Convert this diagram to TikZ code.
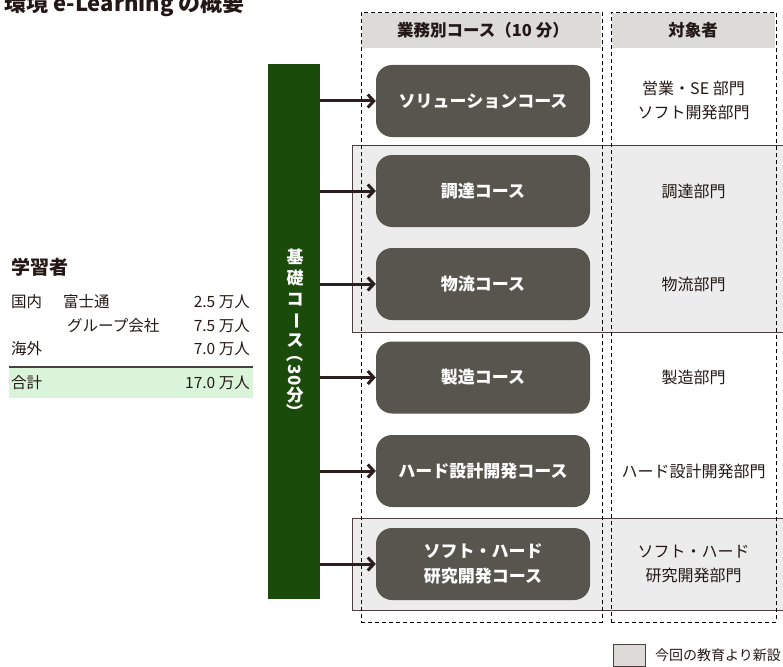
\documentclass[tikz,border=0pt]{standalone}
\usepackage{fontspec}
\setmainfont{Noto Sans CJK JP}
\usepackage{graphicx}
\usetikzlibrary{arrows.meta}
\definecolor{txt}{HTML}{231815}
\definecolor{coursegray}{HTML}{57554E}
\definecolor{headgray}{HTML}{DCDBD7}
\definecolor{newfill}{HTML}{ECECEC}
\definecolor{newborder}{HTML}{4B3F3F}
\definecolor{basegreen}{HTML}{1B4B0A}
\definecolor{arrowc}{HTML}{2A1E1E}
\definecolor{totalgreen}{HTML}{DAF4DA}
\begin{document}
\begin{tikzpicture}[x=1pt,y=-1pt,
  every node/.style={inner sep=0pt, text=txt},
  newbox/.style={fill=newfill, draw=newborder, line width=1.2pt, minimum width=440pt, anchor=north west},
  colbox/.style={draw=black, dash pattern=on 4pt off 3pt, line width=0.9pt, anchor=north west},
  course/.style={fill=coursegray, rounded corners=16pt, minimum width=214pt, minimum height=72pt,
    text=white, font=\fontsize{17}{25}\selectfont\bfseries, align=center},
  target/.style={font=\fontsize{16}{24}\selectfont, align=center},
  head/.style={font=\fontsize{16.5}{18}\selectfont\bfseries},
  vchar/.style={text=white, font=\fontsize{17}{17}\selectfont\bfseries},
  row/.style={font=\fontsize{15.5}{18}\selectfont},
  link/.style={draw=arrowc, line width=3pt, -{Straight Barb[length=6pt,width=13pt]}}
]
\useasboundingbox (0,0) rectangle (783,666);

% title (cut at top as in the reference)
\node[anchor=base east, font=\fontsize{22}{22}\selectfont\bfseries] (title) at (245,12) {環境 e-Learning の概要};

% learners table
\node[anchor=west, font=\fontsize{19}{20}\selectfont\bfseries] (learners) at (11,267) {学習者};
\node[row, anchor=west] (r1a) at (11,302) {国内};
\node[row, anchor=west] (r1b) at (63,302) {富士通};
\node[row, anchor=east] (r1c) at (250,302) {2.5 万人};
\node[row, anchor=west] (r2b) at (67,326) {グループ会社};
\node[row, anchor=east] (r2c) at (250,326) {7.5 万人};
\node[row, anchor=west] (r3a) at (11,349) {海外};
\node[row, anchor=east] (r3c) at (250,349) {7.0 万人};
\fill[totalgreen] (9,368) rectangle (253,398);
\draw[newborder, line width=1.3pt] (9,367) -- (253,367);
\node[row, anchor=west] (r4a) at (11,383) {合計};
\node[row, anchor=east] (r4c) at (250,383) {17.0 万人};

% new-course highlight bands
\node[newbox, minimum height=187pt] (new1) at (352,145) {};
\node[newbox, minimum height=92pt] (new2) at (352,518) {};

% column headers
\fill[headgray] (362,13) rectangle (601,48);
\fill[headgray] (612,13) rectangle (775,48);
\node[head] (h1) at (483,30) {業務別コース（10 分）};
\node[head] (h2) at (693,30) {対象者};

% dashed columns
\node[colbox, minimum width=241pt, minimum height=610pt] (col1) at (361,12) {};
\node[colbox, minimum width=165pt, minimum height=610pt] (col2) at (611,12) {};

% base course bar
\node[fill=basegreen, minimum width=52pt, minimum height=535pt, anchor=north west] (base) at (268,64) {};
\node[vchar] (v1) at (295,257) {基};
\node[vchar] (v2) at (295,278) {礎};
\node[vchar] (v3) at (295,300) {コ};
\node[vchar, rotate=-90] (v4) at (295,321) {ー};
\node[vchar] (v5) at (295,341) {ス};
\node[vchar, rotate=-90] (v6) at (295,353.5) {（};
\node[vchar, rotate=-90] (v7) at (295,375) {30};
\node[vchar] (v8) at (295,395) {分};
\node[vchar, rotate=-90] (v9) at (295,411.5) {）};

% courses
\node[course] (c1) at (483,101) {ソリューションコース};
\node[course] (c2) at (483,191) {調達コース};
\node[course] (c3) at (483,284) {物流コース};
\node[course] (c4) at (483,377.5) {製造コース};
\node[course] (c5) at (483,471) {ハード設計開発コース};
\node[course] (c6) at (483,564) {ソフト・ハード\\研究開発コース};

% targets
\node[target] (t1) at (693.5,100) {営業・SE 部門\\ソフト開発部門};
\node[target] (t2) at (693.5,191) {調達部門};
\node[target] (t3) at (693.5,284) {物流部門};
\node[target] (t4) at (693.5,377.5) {製造部門};
\node[target] (t5) at (693.5,471) {ハード設計開発部門};
\node[target] (t6) at (693.5,564) {ソフト・ハード\\研究開発部門};

% arrows
\foreach \c in {c1,c2,c3,c4,c5,c6}
  \draw[link] (base.east |- \c.west) -- (\c.west);

% legend
\node[draw=newborder, fill=headgray, line width=1pt, minimum width=32pt, minimum height=22pt, anchor=north west] (legbox) at (613,644) {};
\node[anchor=west, font=\fontsize{14}{16}\selectfont] (legtext) at (655,655) {今回の教育より新設};
\end{tikzpicture}
\end{document}
